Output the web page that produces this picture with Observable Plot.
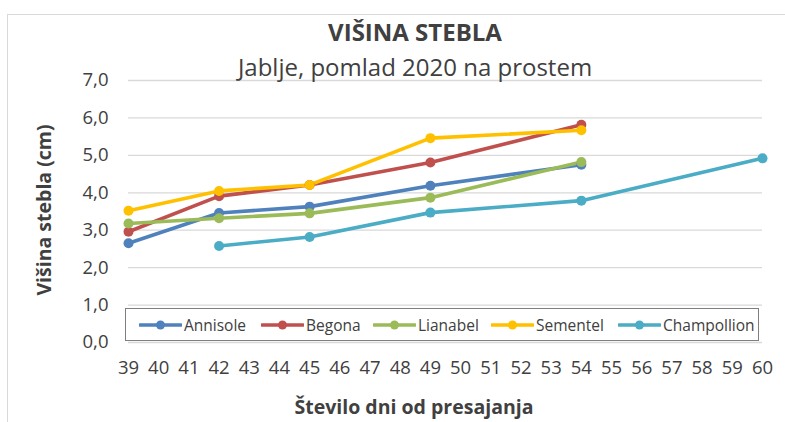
<!DOCTYPE html>
<html>
<head>
<meta charset="utf-8">
<script src="https://cdn.jsdelivr.net/npm/d3@7"></script>
<script src="https://cdn.jsdelivr.net/npm/@observablehq/plot@0.6"></script>
<style>
  html, body { margin: 0; padding: 0; background: #fff; }
  #wrap { position: relative; width: 785px; height: 422px; overflow: hidden; font-family: "Open Sans", sans-serif; color: #404040; }
  #chart > svg { position: absolute; left: 0; top: 0; }
  .abs { position: absolute; white-space: nowrap; }
  #border { position: absolute; left: 7px; top: 14px; width: 900px; height: 600px; border: 1px solid #d9d9d9; box-sizing: border-box; }
  #title { left: 0; width: 830px; text-align: center; top: 16px; font-size: 24px; font-weight: bold; line-height: 32px; color: #404040; }
  #subtitle { left: 0; width: 830px; text-align: center; top: 51px; font-size: 24px; line-height: 32px; color: #404040; }
  #xlabel { left: 0; width: 828px; text-align: center; top: 393px; font-size: 19.5px; font-weight: bold; line-height: 28px; }
  #ylabel { left: 44px; top: 210px; font-size: 19.5px; font-weight: bold; line-height: 28px; transform: translate(-50%, -50%) rotate(-90deg); }
  #legend { position: absolute; left: 125px; top: 308px; width: 634px; height: 33px; border: 1px solid #7f7f7f; box-sizing: border-box; background: #fff; }
  #legend .item { position: absolute; top: 0; height: 31px; display: flex; align-items: center; font-size: 15.5px; color: #404040; white-space: nowrap; }
  #legend .item svg { display: block; margin-right: 2px; }
</style>
</head>
<body>
<div id="wrap">
  <div id="border"></div>
  <div id="chart"></div>
  <div class="abs" id="title">VIŠINA STEBLA</div>
  <div class="abs" id="subtitle">Jablje, pomlad 2020 na prostem</div>
  <div class="abs" id="xlabel">Število dni od presajanja</div>
  <div class="abs" id="ylabel">Višina stebla (cm)</div>
  <div id="legend"></div>
</div>
<script>
const series = ["Annisole", "Begona", "Lianabel", "Sementel", "Champollion"];
const colors = ["#4F81BD", "#C0504D", "#9BBB59", "#FFC000", "#4BACC6"];

const daysA = [39, 42, 45, 49, 54];
const annisole = [2.65, 3.46, 3.63, 4.19, 4.75];
const begona = [2.96, 3.91, 4.21, 4.81, 5.82];
const lianabel = [3.18, 3.32, 3.45, 3.87, 4.82];
const sementel = [3.52, 4.05, 4.21, 5.46, 5.67];
const daysC = [42, 45, 49, 54, 60];
const champollion = [2.58, 2.82, 3.47, 3.79, 4.92];

const xTicks = d3.range(39, 61);
const yTicks = [0, 1, 2, 3, 4, 5, 6, 7];

const data = [];
[[annisole, daysA], [begona, daysA], [lianabel, daysA], [sementel, daysA], [champollion, daysC]]
  .forEach(([vals, days], i) => vals.forEach((v, j) => data.push({series: series[i], day: days[j], value: v})));

const plot = Plot.plot({
  width: 785,
  height: 422,
  marginLeft: 128,
  marginRight: 23,
  marginTop: 80,
  marginBottom: 80,
  style: {fontFamily: "Open Sans, sans-serif", fontSize: "18.5px", color: "#404040", background: "transparent"},
  x: {domain: [39, 60], ticks: xTicks, tickSize: 0, tickPadding: 18, tickFormat: d => String(d), label: null},
  y: {domain: [0, 7], ticks: yTicks, tickSize: 0, tickPadding: 20, tickFormat: d => d.toFixed(1).replace(".", ","), label: null},
  color: {domain: series, range: colors},
  marks: [
    Plot.gridY(yTicks, {stroke: "#d9d9d9", strokeOpacity: 1, strokeWidth: 1.3}),
    Plot.line(data, {x: "day", y: "value", z: "series", stroke: "series", strokeWidth: 3.6, strokeLinecap: "round", strokeLinejoin: "round"}),
    Plot.dot(data, {x: "day", y: "value", fill: "series", r: 5, stroke: null})
  ]
});
document.getElementById("chart").appendChild(plot);

const legendPos = [139, 261, 373, 491, 618];
const legend = document.getElementById("legend");
series.forEach((s, i) => {
  const div = document.createElement("div");
  div.className = "item";
  div.style.left = (legendPos[i] - 126) + "px";
  div.innerHTML = `<svg width="43" height="12"><line x1="1" y1="6" x2="42" y2="6" stroke="${colors[i]}" stroke-width="3.6" stroke-linecap="round"/><circle cx="21.5" cy="6" r="4.5" fill="${colors[i]}"/></svg><span>${s}</span>`;
  legend.appendChild(div);
});
</script>
</body>
</html>
